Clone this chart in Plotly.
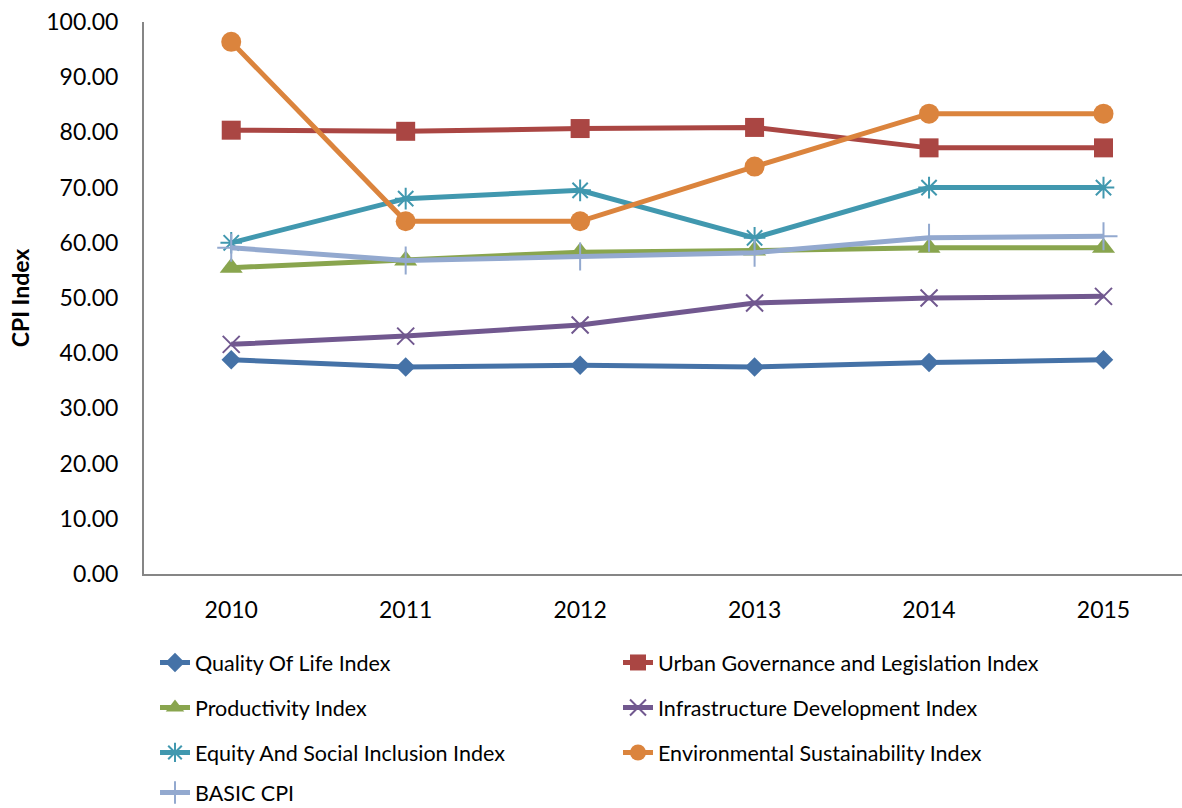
import plotly.graph_objects as go

years = ["2010", "2011", "2012", "2013", "2014", "2015"]

quality_of_life = [38.8, 37.5, 37.8, 37.5, 38.3, 38.8]
urban_governance = [80.4, 80.2, 80.7, 80.9, 77.2, 77.2]
productivity = [55.5, 56.8, 58.3, 58.6, 59.1, 59.1]
infrastructure = [41.6, 43.1, 45.1, 49.1, 50.0, 50.3]
equity_inclusion = [60.0, 68.0, 69.5, 60.9, 70.0, 70.0]
environmental = [96.4, 63.9, 63.9, 73.8, 83.4, 83.4]
basic_cpi = [59.1, 56.8, 57.5, 58.2, 60.9, 61.2]

series = [
    ("Quality Of Life Index", quality_of_life, "#4572A7", "diamond", 15, "legend"),
    ("Urban Governance and Legislation Index", urban_governance, "#AA4643", "square", 19, "legend"),
    ("Productivity Index", productivity, "#89A54E", "triangle-up", 20, "legend2"),
    ("Infrastructure Development Index", infrastructure, "#71588F", "x-thin", 17, "legend2"),
    ("Equity And Social Inclusion Index", equity_inclusion, "#4198AF", "asterisk", 18, "legend3"),
    ("Environmental Sustainability Index", environmental, "#DB843D", "circle", 20, "legend3"),
    ("BASIC CPI", basic_cpi, "#93A9CF", "cross-thin", 20, "legend4"),
]

FONT = "Lato"

fig = go.Figure()
for name, vals, color, symbol, size, leg in series:
    thin = symbol in ("x-thin", "asterisk", "cross-thin")
    fig.add_trace(go.Scatter(
        x=years, y=vals, name=name, mode="lines+markers",
        line=dict(color=color, width=5),
        marker=dict(symbol=symbol, size=size, color=color,
                    line=dict(color=color, width=2 if thin else 0)),
        legend=leg,
    ))

W, H = 1182, 808
L, R, T, B = 144, 0, 22, 234
plot_h = H - T - B
plot_w = W - L - R


def legend_at(row_top_px):
    return dict(
        orientation="h", x=(155 - L) / plot_w, xanchor="left",
        y=-(row_top_px - (H - B)) / plot_h, yanchor="top",
        entrywidth=418, entrywidthmode="pixels",
        font=dict(family=FONT, size=21.5, color="#000000"),
        bgcolor="rgba(0,0,0,0)", itemwidth=30,
    )


fig.update_layout(
    width=W, height=H,
    margin=dict(l=L, r=R, t=T, b=B, autoexpand=False),
    paper_bgcolor="white", plot_bgcolor="white",
    font=dict(family=FONT, size=20, color="#000000"),
    showlegend=True,
    legend=legend_at(642),
    legend2=legend_at(687),
    legend3=legend_at(732),
    legend4=legend_at(772),
    xaxis=dict(
        type="category", range=[-0.5, 5.45],
        showline=True, linecolor="#868686", linewidth=2,
        showgrid=False, zeroline=False, ticks="",
        ticklabelstandoff=14,
        tickfont=dict(family=FONT, size=23),
    ),
    yaxis=dict(
        range=[0, 100], dtick=10, tickformat=".2f",
        showline=True, linecolor="#868686", linewidth=2,
        showgrid=False, zeroline=False, ticks="",
        ticklabelstandoff=19,
        tickfont=dict(family=FONT, size=23),
        title=dict(text="<b>CPI Index</b>", font=dict(family=FONT, size=23), standoff=10),
    ),
)

fig.write_html("out.html")
